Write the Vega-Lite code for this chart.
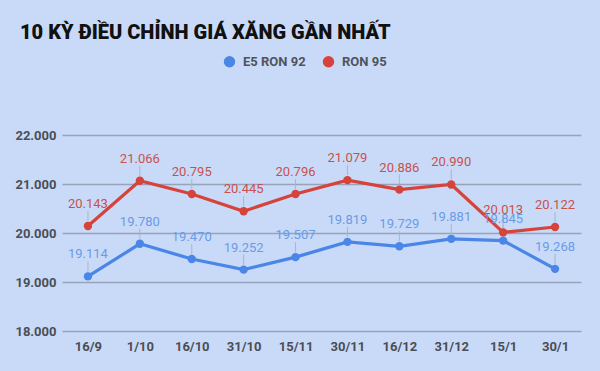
{
  "$schema": "https://vega.github.io/schema/vega-lite/v6.json",
  "width": 519,
  "height": 196,
  "autosize": {"type": "none"},
  "padding": {"left": 62, "top": 135, "right": 19, "bottom": 40},
  "background": "#c9daf8",
  "title": {
    "text": "10 KỲ ĐIỀU CHỈNH GIÁ XĂNG GẦN NHẤT",
    "anchor": "start",
    "frame": "group",
    "dx": -42,
    "offset": 12,
    "font": "Roboto",
    "fontSize": 20,
    "fontWeight": 900,
    "color": "#111111"
  },
  "data": {
    "values": [
      {"date": "16/9", "series": "E5 RON 92", "value": 19.114},
      {"date": "1/10", "series": "E5 RON 92", "value": 19.780},
      {"date": "16/10", "series": "E5 RON 92", "value": 19.470},
      {"date": "31/10", "series": "E5 RON 92", "value": 19.252},
      {"date": "15/11", "series": "E5 RON 92", "value": 19.507},
      {"date": "30/11", "series": "E5 RON 92", "value": 19.819},
      {"date": "16/12", "series": "E5 RON 92", "value": 19.729},
      {"date": "31/12", "series": "E5 RON 92", "value": 19.881},
      {"date": "15/1", "series": "E5 RON 92", "value": 19.845},
      {"date": "30/1", "series": "E5 RON 92", "value": 19.268},
      {"date": "16/9", "series": "RON 95", "value": 20.143},
      {"date": "1/10", "series": "RON 95", "value": 21.066},
      {"date": "16/10", "series": "RON 95", "value": 20.795},
      {"date": "31/10", "series": "RON 95", "value": 20.445},
      {"date": "15/11", "series": "RON 95", "value": 20.796},
      {"date": "30/11", "series": "RON 95", "value": 21.079},
      {"date": "16/12", "series": "RON 95", "value": 20.886},
      {"date": "31/12", "series": "RON 95", "value": 20.990},
      {"date": "15/1", "series": "RON 95", "value": 20.013},
      {"date": "30/1", "series": "RON 95", "value": 20.122}
    ]
  },
  "encoding": {
    "x": {
      "field": "date",
      "type": "ordinal",
      "sort": null,
      "scale": {"type": "point", "padding": 0.5},
      "axis": {
        "title": null,
        "labelAngle": 0,
        "domain": false,
        "ticks": false,
        "grid": false,
        "labelPadding": 9,
        "labelFont": "Roboto",
        "labelFontSize": 13,
        "labelFontWeight": "bold",
        "labelColor": "#4a4e55"
      }
    },
    "y": {
      "field": "value",
      "type": "quantitative",
      "scale": {"domain": [18, 22], "nice": false, "zero": false},
      "axis": {
        "title": null,
        "values": [18, 19, 20, 21, 22],
        "format": ".3f",
        "domain": false,
        "ticks": false,
        "labelPadding": 6,
        "labelFont": "Roboto",
        "labelFontSize": 13,
        "labelFontWeight": "bold",
        "labelColor": "#4a4e55",
        "gridColor": "#98a2b8",
        "gridWidth": 1.5
      }
    }
  },
  "layer": [
    {
      "mark": {"type": "rule", "color": "#a9b4c8", "strokeWidth": 1, "yOffset": -5, "y2Offset": -15},
      "encoding": {
        "y2": {"field": "value"},
        "detail": {"field": "series"}
      }
    },
    {
      "mark": {"type": "line", "strokeWidth": 3.2},
      "encoding": {
        "color": {
          "field": "series",
          "type": "nominal",
          "scale": {"domain": ["E5 RON 92", "RON 95"], "range": ["#4a86e8", "#d5433a"]},
          "legend": {
            "title": null,
            "orient": "none",
            "direction": "horizontal",
            "legendX": 161,
            "legendY": -80,
            "symbolType": "circle",
            "symbolSize": 130,
            "symbolStrokeWidth": 0,
            "labelFont": "Roboto",
            "labelFontSize": 13,
            "labelFontWeight": "bold",
            "labelColor": "#4f545c",
            "columnPadding": 16,
            "labelOffset": 7
          }
        }
      }
    },
    {
      "mark": {"type": "point", "filled": true, "size": 70, "opacity": 1},
      "encoding": {
        "color": {"field": "series", "type": "nominal", "legend": null}
      }
    },
    {
      "mark": {"type": "text", "dy": -22, "baseline": "middle", "font": "Roboto", "fontSize": 13},
      "encoding": {
        "text": {"field": "value", "type": "quantitative", "format": ".3f"},
        "fill": {
          "field": "series",
          "type": "nominal",
          "scale": {"domain": ["E5 RON 92", "RON 95"], "range": ["#6a9be6", "#c9514b"]},
          "legend": null
        }
      }
    }
  ],
  "config": {
    "view": {"stroke": null},
    "font": "Roboto"
  }
}
